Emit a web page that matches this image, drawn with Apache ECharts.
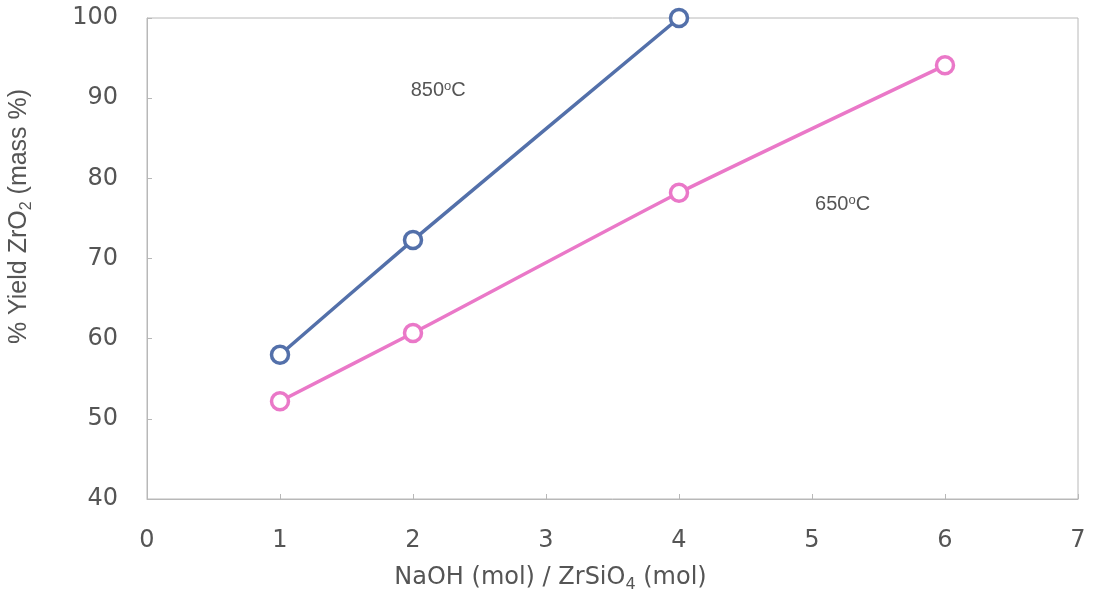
<!DOCTYPE html>
<html>
<head>
<meta charset="utf-8">
<script src="https://cdn.jsdelivr.net/npm/echarts@6/dist/echarts.min.js"></script>
<style>
html,body{margin:0;padding:0;background:#fff;}
#chart{width:1096px;height:589px;}
</style>
</head>
<body>
<div id="chart"></div>
<script>
const xTicks = [0, 1, 2, 3, 4, 5, 6, 7];
const yTicks = [40, 50, 60, 70, 80, 90, 100];
const ratio850 = [1, 2, 4];
const yield850 = [58, 72.3, 100];
const ratio650 = [1, 2, 4, 6];
const yield650 = [52.2, 60.7, 78.2, 94.1];
const labels = [
  { name: '850', x: 2.19, y: 90.9 },
  { name: '650', x: 5.23, y: 76.7 }
];

const chart = echarts.init(document.getElementById('chart'));
const axisGray = '#b8b8b8';
const textGray = '#555';
const tickFont = 'DejaVu Sans, Verdana, sans-serif';
const arial = 'Liberation Sans, Arial, sans-serif';

function pairs(xs, ys) { return xs.map((x, i) => [x, ys[i]]); }

const annotRich = {
  t: { fontFamily: arial, fontSize: 20, color: '#555' },
  sup: { fontFamily: arial, fontSize: 13, color: '#555', verticalAlign: 'bottom', padding: [0, 0, 9, 0] }
};

chart.setOption({
  backgroundColor: '#fff',
  animation: false,
  grid: {
    left: 147, right: 18, top: 18, bottom: 90,
    outerBoundsMode: 'none',
    containLabel: false,
    show: true, borderColor: axisGray, borderWidth: 1, backgroundColor: '#fff'
  },
  xAxis: {
    type: 'value',
    min: xTicks[0], max: xTicks[xTicks.length - 1], interval: 1,
    axisLine: { show: true, lineStyle: { color: axisGray, width: 1 } },
    axisTick: { show: true, inside: true, length: 5, lineStyle: { color: axisGray } },
    splitLine: { show: false },
    axisLabel: { margin: 30, color: textGray, fontSize: 24, fontFamily: tickFont },
    name: 'NaOH (mol) / ZrSiO{sub|4} (mol)',
    nameLocation: 'middle',
    nameGap: 64,
    nameTextStyle: {
      color: textGray, fontSize: 24, fontFamily: tickFont,
      padding: [0, 124, 0, 0],
      rich: { sub: { fontSize: 16, color: textGray, fontFamily: tickFont, verticalAlign: 'top', padding: [14, 0, 0, 0] } }
    }
  },
  yAxis: {
    type: 'value',
    min: yTicks[0], max: yTicks[yTicks.length - 1], interval: 10,
    axisLine: { show: true, lineStyle: { color: axisGray, width: 1 } },
    axisTick: { show: true, inside: true, length: 5, lineStyle: { color: axisGray } },
    splitLine: { show: false },
    axisLabel: { margin: 29, color: textGray, fontSize: 24, fontFamily: tickFont },
    name: '% Yield ZrO{sub|2} (mass %)',
    nameLocation: 'middle',
    nameRotate: 90,
    nameGap: 112,
    nameTextStyle: {
      color: textGray, fontSize: 25, fontFamily: arial,
      padding: [0, 0, 0, 84],
      rich: { sub: { fontSize: 16, color: textGray, fontFamily: arial, verticalAlign: 'top', padding: [15, 0, 0, 0] } }
    }
  },
  series: [
    {
      name: '850°C', type: 'line', data: pairs(ratio850, yield850),
      smooth: 0.15, clip: false,
      symbol: 'circle', symbolSize: 17,
      lineStyle: { color: '#5370aa', width: 3.5 },
      itemStyle: { color: '#ffffff', borderColor: '#5370aa', borderWidth: 3.5 },
      markPoint: {
        symbol: 'circle', symbolSize: 1,
        itemStyle: { color: 'rgba(0,0,0,0)', borderWidth: 0 },
        label: { show: true, position: 'inside', formatter: '{t|' + labels[0].name + '}{sup|o}{t|C}', rich: annotRich },
        data: [{ coord: [labels[0].x, labels[0].y] }]
      }
    },
    {
      name: '650°C', type: 'line', data: pairs(ratio650, yield650),
      smooth: 0.15, clip: false,
      symbol: 'circle', symbolSize: 17,
      lineStyle: { color: '#ea78c8', width: 3.5 },
      itemStyle: { color: '#ffffff', borderColor: '#ea78c8', borderWidth: 3.5 },
      markPoint: {
        symbol: 'circle', symbolSize: 1,
        itemStyle: { color: 'rgba(0,0,0,0)', borderWidth: 0 },
        label: { show: true, position: 'inside', formatter: '{t|' + labels[1].name + '}{sup|o}{t|C}', rich: annotRich },
        data: [{ coord: [labels[1].x, labels[1].y] }]
      }
    }
  ]
});
</script>
</body>
</html>
